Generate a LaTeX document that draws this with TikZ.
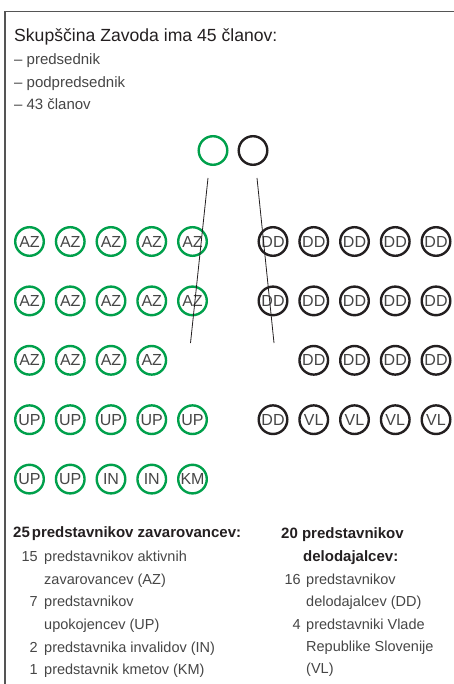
\documentclass[tikz,border=0pt]{standalone}
\usepackage{fontspec}
\setmainfont{Liberation Sans}
\definecolor{zgreen}{RGB}{0,160,75}
\definecolor{txt}{RGB}{70,70,70}
\definecolor{dark}{RGB}{35,31,32}
\definecolor{framecol}{RGB}{85,85,85}
\begin{document}
\begin{tikzpicture}[x=1pt,y=-1pt,
  mem/.style={circle, draw, line width=2.4pt, minimum size=28.6pt, inner sep=0pt,
    text=txt, font=\fontsize{16}{16}\selectfont},
  ins/.style={mem, draw=zgreen},
  emp/.style={mem, draw=dark},
  title/.style={anchor=base west, inner sep=0pt, text=dark, font=\fontsize{17.6}{17.6}\selectfont},
  sub/.style={anchor=base west, inner sep=0pt, text=txt, font=\fontsize{15}{15}\selectfont},
  lab/.style={anchor=base west, inner sep=0pt, text=txt, font=\fontsize{14.5}{14.5}\selectfont},
  num/.style={anchor=base east, inner sep=0pt, text=txt, font=\fontsize{14.5}{14.5}\selectfont},
  head/.style={anchor=base west, inner sep=0pt, text=dark, font=\bfseries\fontsize{15}{15}\selectfont},
  moveline/.style={draw=dark, line width=0.8pt}
  ]
\useasboundingbox (0,0) rectangle (454,684);
% frame
\draw[framecol, line width=1.3pt] (5,684) -- (5,11.5) -- (454,11.5);

% header
\node[title] (t0) at (14,42) {Skupščina Zavoda ima 45 članov:};
\node[sub] (t1) at (14,65) {– predsednik};
\node[sub] (t2) at (14,87.5) {– podpredsednik};
\node[sub] (t3) at (14,110) {–\hspace{4pt}43 članov};

% top circles
\node[ins] (pres) at (213,150.5) {};
\node[emp] (vpres) at (253,150.5) {};

% left grid
\foreach \r/\lst in {1/{AZ,AZ,AZ,AZ,AZ},2/{AZ,AZ,AZ,AZ,AZ},3/{AZ,AZ,AZ,AZ},4/{UP,UP,UP,UP,UP},5/{UP,UP,IN,IN,KM}}{
  \foreach \t [count=\c] in \lst {
    \node[ins] (L-\r-\c) at ({29.5+40.75*(\c-1)},{241.5+59.4*(\r-1)}) {\t};
  }
}
% right grid
\foreach \r/\c/\t in {1/1/DD,1/2/DD,1/3/DD,1/4/DD,1/5/DD,
                      2/1/DD,2/2/DD,2/3/DD,2/4/DD,2/5/DD,
                      3/2/DD,3/3/DD,3/4/DD,3/5/DD,
                      4/1/DD,4/2/VL,4/3/VL,4/4/VL,4/5/VL}{
  \node[emp] (R-\r-\c) at ({273+40.75*(\c-1)},{241.5+59.4*(\r-1)}) {\t};
}

% movement lines
\coordinate (a1) at (208,178);
\coordinate (a2) at (190.5,343);
\coordinate (b1) at (257,178);
\coordinate (b2) at (274,343);
\draw[moveline] (a1) -- (a2);
\draw[moveline] (b1) -- (b2);

% left legend
\node[head] (h1) at (13,537) {25\hspace{2pt}predstavnikov zavarovancev:};
\node[num] (n1) at (38,561) {15};
\node[lab] (l1) at (44,561) {predstavnikov aktivnih};
\node[lab] (l2) at (44,584) {zavarovancev (AZ)};
\node[num] (n2) at (38,606.5) {7};
\node[lab] (l3) at (44,606.5) {predstavnikov};
\node[lab] (l4) at (44,629) {upokojencev (UP)};
\node[num] (n3) at (38,652) {2};
\node[lab] (l5) at (44,652) {predstavnika invalidov (IN)};
\node[num] (n4) at (38,674.5) {1};
\node[lab] (l6) at (44,674.5) {predstavnik kmetov (KM)};

% right legend
\node[head] (h2) at (281,538) {20 predstavnikov};
\node[head] (h3) at (303,561) {delodajalcev:};
\node[num] (n5) at (301,584) {16};
\node[lab] (r1) at (306,584) {predstavnikov};
\node[lab] (r2) at (306,606.5) {delodajalcev (DD)};
\node[num] (n6) at (301,629) {4};
\node[lab] (r3) at (306,629) {predstavniki Vlade};
\node[lab] (r4) at (306,651) {Republike Slovenije};
\node[lab] (r5) at (306,673.5) {(VL)};
\end{tikzpicture}
\end{document}
